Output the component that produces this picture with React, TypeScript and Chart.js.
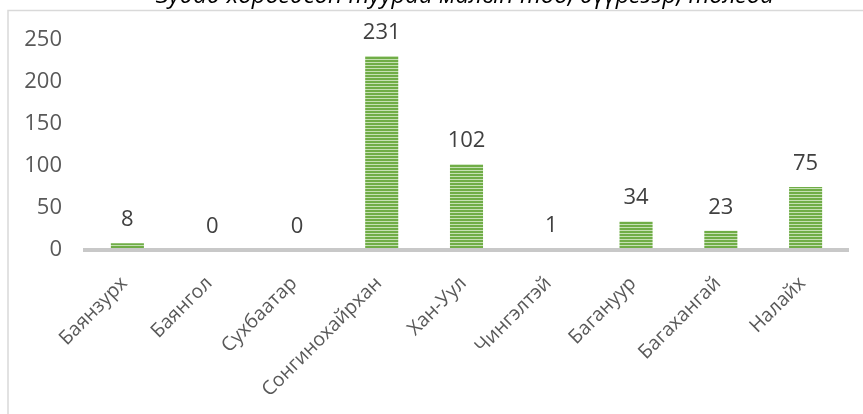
import React, { useEffect, useRef } from "react";
import { Chart, registerables } from "chart.js";

Chart.register(...registerables);

const titleText = "Зудад хорогдсон туурай малын тоо, дүүргээр, толгой";
const categories = [
  "Баянзурх",
  "Баянгол",
  "Сухбаатар",
  "Сонгинохайрхан",
  "Хан-Уул",
  "Чингэлтэй",
  "Багануур",
  "Багахангай",
  "Налайх",
];
const values = [8, 0, 0, 231, 102, 1, 34, 23, 75];
const yTicks = [0, 50, 100, 150, 200, 250];

const FONT = '"Open Sans", "Noto Sans", sans-serif';

function makePattern(): CanvasPattern | string {
  const c = document.createElement("canvas");
  c.width = 4;
  c.height = 3;
  const g = c.getContext("2d");
  if (!g) return "#70ad47";
  g.fillStyle = "#70ad47";
  g.fillRect(0, 0, 4, 2);
  g.fillStyle = "#c5e0b3";
  g.fillRect(0, 2, 4, 1);
  const p = g.createPattern(c, "repeat");
  return p || "#70ad47";
}

const framePlugin = {
  id: "frame",
  beforeDraw(chart: any) {
    const ctx = chart.ctx;
    ctx.save();
    ctx.strokeStyle = "#d9d9d9";
    ctx.lineWidth = 1.5;
    ctx.beginPath();
    ctx.moveTo(8, 420);
    ctx.lineTo(8, 10.5);
    ctx.lineTo(870, 10.5);
    ctx.stroke();
    ctx.font = `italic 24px ${FONT}`;
    ctx.fillStyle = "#000";
    ctx.textAlign = "center";
    ctx.textBaseline = "alphabetic";
    ctx.fillText(titleText, 465, 3);
    ctx.restore();
  },
};

const labelPlugin = {
  id: "valueLabels",
  afterDatasetsDraw(chart: any) {
    const ctx = chart.ctx;
    const meta = chart.getDatasetMeta(0);
    ctx.save();
    ctx.font = `22px ${FONT}`;
    ctx.fillStyle = "#404040";
    ctx.textAlign = "center";
    ctx.textBaseline = "alphabetic";
    meta.data.forEach((bar: any, i: number) => {
      ctx.fillText(String(values[i]), bar.x, bar.y - 17);
    });
    ctx.restore();
  },
};

export default function App() {
  const ref = useRef<HTMLCanvasElement | null>(null);
  useEffect(() => {
    document.body.style.margin = "0";
    if (!ref.current) return;
    const chart = new Chart(ref.current, {
      type: "bar",
      data: {
        labels: categories,
        datasets: [
          {
            data: values,
            backgroundColor: makePattern() as any,
            borderWidth: 0,
            barPercentage: 0.39,
            categoryPercentage: 1,
          },
        ],
      },
      options: {
        animation: false,
        responsive: true,
        maintainAspectRatio: false,
        events: [],
        layout: { padding: { top: 40, right: 15, left: 0, bottom: 0 } },
        plugins: { legend: { display: false }, tooltip: { enabled: false } },
        scales: {
          x: {
            grid: { display: false, drawTicks: false },
            border: { display: true, color: "#c8c8c8", width: 4, z: 1 },
            ticks: {
              color: "#595959",
              font: { family: FONT, size: 19.5 },
              maxRotation: 45,
              minRotation: 45,
              autoSkip: false,
              padding: 22,
              labelOffset: -3,
            },
            afterFit: (s: any) => {
              s.height = 164;
            },
          },
          y: {
            min: 0,
            max: 250,
            grid: { display: false, drawTicks: false },
            border: { display: false },
            afterBuildTicks: (s: any) => {
              s.ticks = yTicks.map((v) => ({ value: v }));
            },
            ticks: {
              color: "#595959",
              font: { family: FONT, size: 22 },
              padding: 23,
            },
            afterFit: (s: any) => {
              s.width = 85;
            },
          },
        },
      },
      plugins: [framePlugin, labelPlugin],
    });
    return () => chart.destroy();
  }, []);
  return (
    <div style={{ position: "fixed", left: 0, top: 0, width: 863, height: 414 }}>
      <canvas ref={ref} />
    </div>
  );
}
